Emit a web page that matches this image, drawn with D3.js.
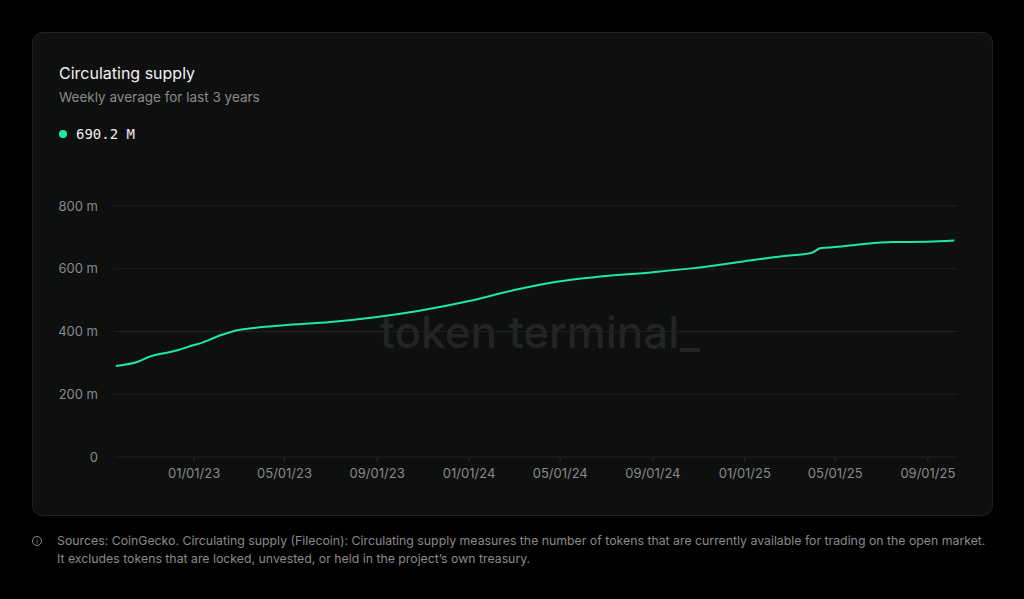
<!DOCTYPE html>
<html><head><meta charset="utf-8">
<script src="https://cdn.jsdelivr.net/npm/d3@7"></script>
<style>body{margin:0;background:#000;font-family:Inter,sans-serif;}</style>
</head><body>
<svg id="c" width="1024" height="599"></svg>
<script>
const dates = ["2022-09-19","2022-10-20","2022-11-01","2022-12-10","2023-01-01","2023-01-10","2023-02-05","2023-03-01","2023-03-20","2023-04-01","2023-05-01","2023-07-01","2023-09-01","2023-10-25","2024-01-01","2024-03-01","2024-05-01","2024-06-15","2024-09-01","2024-10-25","2025-01-01","2025-02-20","2025-03-30","2025-04-12","2025-05-01","2025-06-05","2025-07-15","2025-09-01","2025-10-06"];
const values = [290,305,318,340,357,363,388,405,411,414,420,430,446,465,497,532,560,573,589,602,624,640,650,666,669,678,685,686,690];
const yTicks = [0,200,400,600,800];
const xTicks = ["2023-01-01","2023-05-01","2023-09-01","2024-01-01","2024-05-01","2024-09-01","2025-01-01","2025-05-01","2025-09-01"];
const svg = d3.select("#c");
svg.append("rect").attr("x",32.5).attr("y",32.5).attr("width",960).attr("height",483).attr("rx",10).attr("fill","#0e0f0f").attr("stroke","#222");
svg.append("text").attr("x",59).attr("y",79).attr("fill","#f2f2f2").attr("font-size",16).attr("font-weight",400).text("Circulating supply");
svg.append("text").attr("x",59).attr("y",102).attr("fill","#8a8a8a").attr("font-size",13.5).text("Weekly average for last 3 years");
svg.append("circle").attr("cx",63).attr("cy",134).attr("r",4).attr("fill","#1de9a0");
svg.append("text").attr("x",76).attr("y",139).attr("fill","#eee").attr("font-size",14).attr("font-family","'DejaVu Sans Mono',monospace").text("690.2 M");
svg.append("text").attr("x",540).attr("y",348).attr("text-anchor","middle").attr("fill","#232424").attr("font-size",44).attr("font-weight",500).text("token terminal_");
const parse = d3.timeParse("%Y-%m-%d");
const x = d3.scaleTime().domain([parse("2022-09-18"),parse("2025-10-07")]).range([115,955]);
const y = d3.scaleLinear().domain([0,800]).range([457,206]);
const fmt = d3.timeFormat("%m/%d/%y");
yTicks.forEach(t=>{
  svg.append("line").attr("x1",114).attr("x2",957).attr("y1",y(t)).attr("y2",y(t)).attr("stroke","#1f2020");
  svg.append("text").attr("x",98).attr("y",y(t)+4.5).attr("text-anchor","end").attr("fill","#8a8a8a").attr("font-size",13).text(t===0?"0":t+" m");
});
xTicks.forEach(t=>{
  const d=parse(t);
  svg.append("line").attr("x1",x(d)).attr("x2",x(d)).attr("y1",457).attr("y2",462).attr("stroke","#2a2a2a");
  svg.append("text").attr("x",x(d)).attr("y",478).attr("text-anchor","middle").attr("fill","#8a8a8a").attr("font-size",13).text(fmt(d));
});
const pts = dates.map((d,i)=>[parse(d),values[i]]);
svg.append("path").datum(pts).attr("fill","none").attr("stroke","#1de9a0").attr("stroke-width",2)
  .attr("d",d3.line().x(d=>x(d[0])).y(d=>y(d[1])).curve(d3.curveMonotoneX));
svg.append("circle").attr("cx",37).attr("cy",541).attr("r",4.5).attr("fill","none").attr("stroke","#8a8a8a");
svg.append("text").attr("x",37).attr("y",544).attr("text-anchor","middle").attr("fill","#8a8a8a").attr("font-size",7).text("i");
svg.append("text").attr("x",57).attr("y",545).attr("fill","#8a8a8a").attr("font-size",12.3).text("Sources: CoinGecko. Circulating supply (Filecoin): Circulating supply measures the number of tokens that are currently available for trading on the open market.");
svg.append("text").attr("x",57).attr("y",563).attr("fill","#8a8a8a").attr("font-size",12.3).text("It excludes tokens that are locked, unvested, or held in the project’s own treasury.");
</script></body></html>
